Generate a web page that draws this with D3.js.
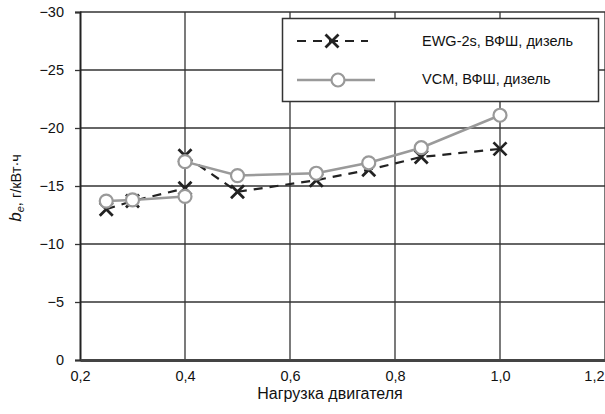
<!DOCTYPE html>
<meta charset="utf-8">
<style>
  body { margin: 0; background: #fff; }
  text { font-family: "Liberation Sans", Arial, sans-serif; fill: #111; }
</style>
<body>
<svg width="605" height="414"></svg>
<script src="https://d3js.org/d3.v7.min.js"></script>
<script>

// load points; null splits the line (two measurements at 0.4)
var ewgLoad = [0.25, 0.3, 0.4, null, 0.4, 0.5, 0.65, 0.75, 0.85, 1.0];
var ewgBe   = [-13.0, -13.7, -14.8, null, -17.6, -14.5, -15.5, -16.4, -17.5, -18.2];
var vcmLoad = [0.25, 0.3, 0.4, null, 0.4, 0.5, 0.65, 0.75, 0.85, 1.0];
var vcmBe   = [-13.7, -13.8, -14.1, null, -17.1, -15.9, -16.1, -17.0, -18.3, -21.1];

var xTicks = [0.2, 0.4, 0.6, 0.8, 1.0, 1.2];
var yTicks = [0, -5, -10, -15, -20, -25, -30];
var seriesNames = ["EWG-2s, ВФШ, дизель", "VCM, ВФШ, дизель"];

var svg = d3.select("svg");

var x = d3.scaleLinear().domain([0.2, 1.2]).range([80, 605]);
var y = d3.scaleLinear().domain([0, -30]).range([360, 12]);

var fmt = function(d) { return d3.format(".1f")(d).replace(".", ","); };
var fmtY = function(d) { return d === 0 ? "0" : "\u2212" + Math.abs(d); };

// grid
svg.append("g").selectAll("line")
  .data(yTicks.filter(d => d !== 0))
  .enter().append("line")
    .attr("x1", x(0.2)).attr("x2", x(1.2))
    .attr("y1", d => y(d)).attr("y2", d => y(d))
    .attr("stroke", "#333").attr("stroke-width", 1.3);

svg.append("g").selectAll("line")
  .data(xTicks.filter(d => d !== 0.2))
  .enter().append("line")
    .attr("x1", d => x(d)).attr("x2", d => x(d))
    .attr("y1", y(-30)).attr("y2", y(0))
    .attr("stroke", "#333").attr("stroke-width", 1.3);

// axes
var yAxis = svg.append("g")
  .attr("transform", "translate(" + x(0.2) + ",0)")
  .call(d3.axisLeft(y).tickValues(yTicks).tickFormat(fmtY).tickSize(5).tickPadding(11));
yAxis.select(".domain").attr("stroke", "#222").attr("stroke-width", 2);
yAxis.selectAll(".tick line").attr("stroke", "#333").attr("stroke-width", 1.3);
yAxis.selectAll("text").style("font-size", "14.5px").attr("fill", "#111");

var xAxis = svg.append("g")
  .attr("transform", "translate(0," + y(0) + ")")
  .call(d3.axisBottom(x).tickValues(xTicks).tickFormat(fmt).tickSize(0).tickPadding(11));
xAxis.select(".domain").attr("stroke", "#444").attr("stroke-width", 3);
xAxis.selectAll("text").style("font-size", "14.5px").attr("fill", "#111");
// last label sits against the right edge
xAxis.selectAll("text").filter(d => d === 1.2)
  .attr("text-anchor", "end").attr("x", -1);

// axis titles
svg.append("text")
  .attr("x", 330).attr("y", 399)
  .attr("text-anchor", "middle")
  .style("font-size", "16px")
  .text("Нагрузка двигателя");

var yt = svg.append("text")
  .attr("transform", "translate(21,188) rotate(-90)")
  .attr("text-anchor", "middle")
  .style("font-size", "14.5px");
yt.append("tspan").attr("font-style", "italic").style("font-size", "17px").text("b");
yt.append("tspan").attr("font-style", "italic").attr("dy", 3).style("font-size", "11px").text("e");
yt.append("tspan").attr("dy", -3).text(", г/кВт·ч");

// series
var ewg = ewgLoad.map((d, i) => ({ x: d, y: ewgBe[i] }));
var vcm = vcmLoad.map((d, i) => ({ x: d, y: vcmBe[i] }));

var line = d3.line()
  .defined(d => d.x !== null)
  .x(d => x(d.x)).y(d => y(d.y));

var crossPath = function(s) {
  return "M" + (-s) + "," + (-s) + "L" + s + "," + s + "M" + s + "," + (-s) + "L" + (-s) + "," + s;
};

svg.append("path")
  .datum(ewg)
  .attr("d", line)
  .attr("fill", "none")
  .attr("stroke", "#222")
  .attr("stroke-width", 2.2)
  .attr("stroke-dasharray", "9,7");

svg.append("g").selectAll("path")
  .data(ewg.filter(d => d.x !== null))
  .enter().append("path")
    .attr("transform", d => "translate(" + x(d.x) + "," + y(d.y) + ")")
    .attr("d", crossPath(6.5))
    .attr("stroke", "#222").attr("stroke-width", 2.8);

svg.append("path")
  .datum(vcm)
  .attr("d", line)
  .attr("fill", "none")
  .attr("stroke", "#9a9a9a")
  .attr("stroke-width", 2.5);

svg.append("g").selectAll("circle")
  .data(vcm.filter(d => d.x !== null))
  .enter().append("circle")
    .attr("cx", d => x(d.x)).attr("cy", d => y(d.y))
    .attr("r", 6.5)
    .attr("fill", "#fff")
    .attr("stroke", "#999").attr("stroke-width", 2.2);

// legend
var lg = svg.append("g");
lg.append("rect")
  .attr("x", 282.5).attr("y", 18.5).attr("width", 316).attr("height", 83)
  .attr("fill", "#fff").attr("stroke", "#333").attr("stroke-width", 1.5);

lg.append("line")
  .attr("x1", 297).attr("x2", 368).attr("y1", 41).attr("y2", 41)
  .attr("stroke", "#222").attr("stroke-width", 2.2).attr("stroke-dasharray", "9,7");
lg.append("path")
  .attr("transform", "translate(332,41)")
  .attr("d", crossPath(6.5))
  .attr("stroke", "#222").attr("stroke-width", 2.8);

lg.append("line")
  .attr("x1", 297).attr("x2", 375).attr("y1", 80).attr("y2", 80)
  .attr("stroke", "#9a9a9a").attr("stroke-width", 2.5);
lg.append("circle")
  .attr("cx", 338).attr("cy", 80).attr("r", 6.5)
  .attr("fill", "#fff").attr("stroke", "#999").attr("stroke-width", 2.2);

lg.selectAll("text.lbl")
  .data(seriesNames)
  .enter().append("text")
    .attr("class", "lbl")
    .attr("x", 422).attr("y", (d, i) => i === 0 ? 46 : 84)
    .style("font-size", "14.5px")
    .text(d => d);

</script>
</body>
